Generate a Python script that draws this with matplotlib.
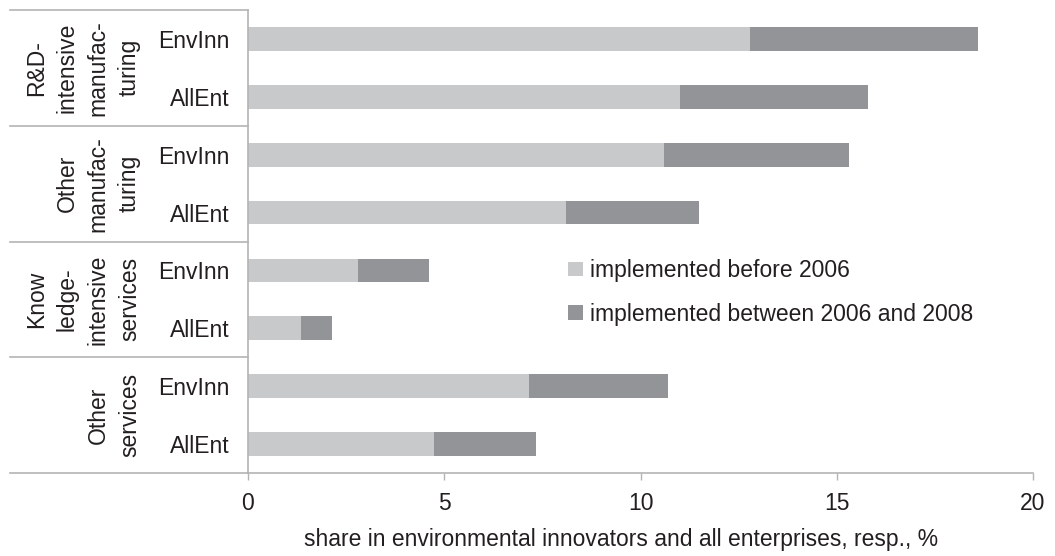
import matplotlib
matplotlib.use("Agg")
import matplotlib.pyplot as plt
import numpy as np

# data
groups = ["R&D-\nintensive\nmanufac-\nturing", "Other\nmanufac-\nturing",
          "Know\nledge-\nintensive\nservices", "Other\nservices"]
row_labels = ["EnvInn", "AllEnt"] * 4
before_2006 = [12.8, 11.0, 10.6, 8.1, 2.8, 1.35, 7.15, 4.75]
between_06_08 = [5.8, 4.8, 4.7, 3.4, 1.8, 0.8, 3.55, 2.6]
legend_labels = ["implemented before 2006", "implemented between 2006 and 2008"]
xlabel = "share in environmental innovators and all enterprises, resp., %"

plt.rcParams['font.family'] = ['Liberation Sans', 'DejaVu Sans']
txt = '#231f20'
line_c = '#b4b4b4'
fs = 16.5

fig = plt.figure(figsize=(10.55, 5.56), dpi=100)
ax = fig.add_axes([248/1055, 1 - 473/556, (1033-248)/1055, (473-10)/556])

y = np.arange(len(row_labels))
h = 0.41
ax.barh(y, before_2006, height=h, color='#c8c9cb', label=legend_labels[0])
ax.barh(y, between_06_08, left=before_2006, height=h, color='#939497', label=legend_labels[1])

ax.set_ylim(len(row_labels) - 0.5, -0.5)
ax.set_xlim(0, 20)
ax.set_xticks([0, 5, 10, 15, 20])
ax.set_yticks(y)
ax.set_yticklabels(row_labels)
ax.tick_params(axis='y', length=0, pad=13, labelsize=fs, labelcolor=txt)
ax.tick_params(axis='x', length=5, width=1, color=line_c, pad=9, labelsize=fs, labelcolor=txt)

for s in ['top', 'right']:
    ax.spines[s].set_visible(False)
for s in ['left', 'bottom']:
    ax.spines[s].set_color(line_c)
    ax.spines[s].set_linewidth(1.2)

# group separators and labels
tr = ax.get_yaxis_transform()
x0 = (10 - 248) / 785
for b in [-0.5, 1.5, 3.5, 5.5, 7.5]:
    ax.plot([x0, 0], [b, b], color=line_c, lw=1.2, transform=tr, clip_on=False)
for k, g in enumerate(groups):
    ax.text((141 - 248) / 785, 2 * k + 0.5, g, transform=tr, rotation=90,
            ha='right', va='center', multialignment='center',
            fontsize=fs, color=txt, linespacing=1.45)

ax.set_xlabel(xlabel, fontsize=fs, color=txt)
ax.xaxis.set_label_coords(0.475, -0.118)

ax.legend(loc='upper left', bbox_to_anchor=(568/1055, 1 - 259/556),
          bbox_transform=fig.transFigure, frameon=False, fontsize=fs,
          handlelength=0.65, handleheight=0.6, handletextpad=0.3,
          labelspacing=0.9, borderpad=0, borderaxespad=0, labelcolor=txt)

fig.savefig("out.png", dpi=100)
